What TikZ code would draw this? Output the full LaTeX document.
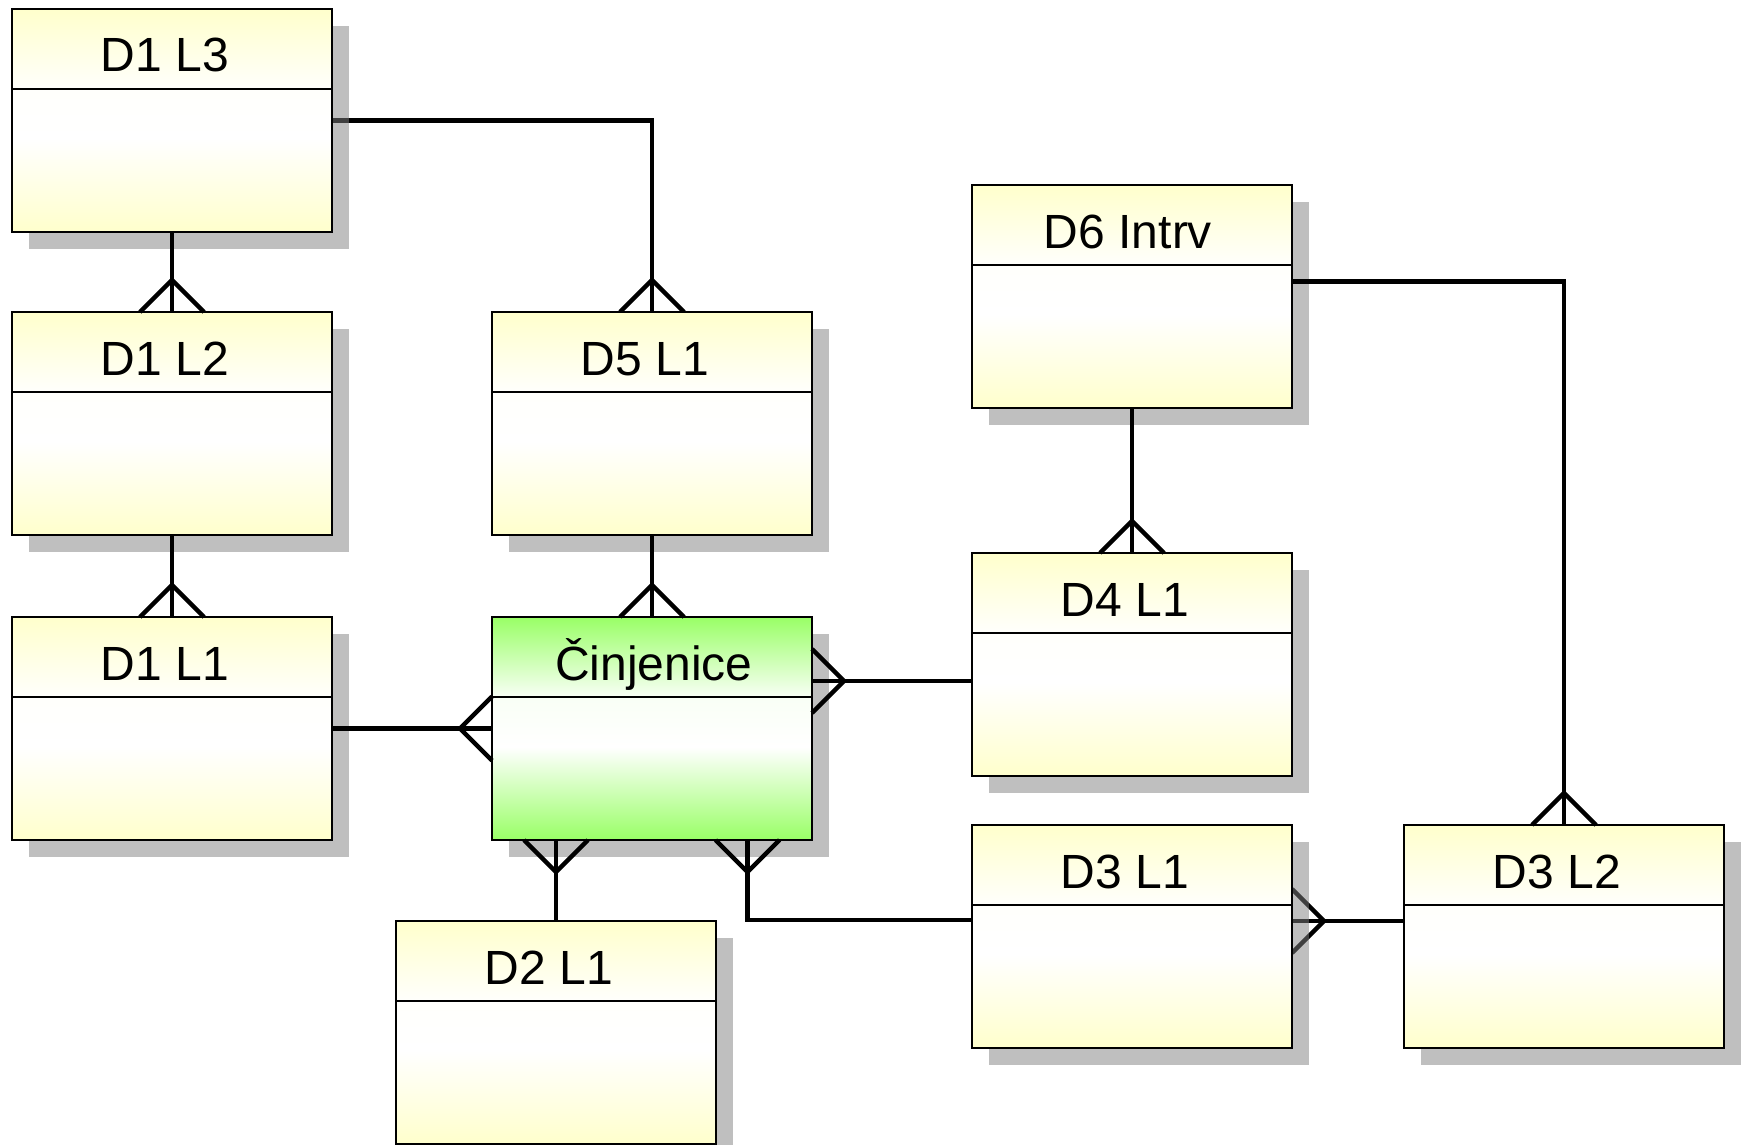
\documentclass[tikz,border=0pt]{standalone}
\usepackage{fontspec}
\setmainfont{Liberation Sans}
\usetikzlibrary{calc}
\definecolor{entyel}{HTML}{FFFFCC}
\definecolor{entgrn}{HTML}{99FF66}
\tikzset{
  entity/.style={rectangle, inner sep=0pt, outer sep=0pt, minimum width=320pt, minimum height=223pt},
  conn/.style={line width=4.5pt, black, line join=miter},
  boxline/.style={line width=2.2pt, black},
  shadowbox/.style={fill=black!50, opacity=0.5},
  title/.style={anchor=base, inner sep=0pt, font=\fontsize{48}{54}\selectfont},
}
\newcommand\entshadow[1]{\fill[shadowbox] ($(#1.north west)+(17,17)$) rectangle ($(#1.south east)+(17,17)$);}
\newcommand\entbody[2]{%
  \shade[top color=#2, bottom color=#2!6!white] (#1.north west) rectangle ($(#1.north east)+(0,80)$);
  \shade[top color=#2!6!white, bottom color=white] ($(#1.north west)+(0,80)$) rectangle ($(#1.north east)+(0,130)$);
  \shade[top color=white, bottom color=#2] ($(#1.north west)+(0,130)$) rectangle (#1.south east);
  \draw[boxline] (#1.north west) rectangle (#1.south east);
  \draw[boxline] ($(#1.north west)+(0,80)$) -- ($(#1.north east)+(0,80)$);
}
\newcommand\crowup[1]{\draw[conn] ($(#1)+(-32,0)$) -- ($(#1)+(0,-32)$) -- ($(#1)+(32,0)$);}
\newcommand\crowdown[1]{\draw[conn] ($(#1)+(-32,0)$) -- ($(#1)+(0,32)$) -- ($(#1)+(32,0)$);}
\newcommand\crowleft[1]{\draw[conn] ($(#1)+(0,-32)$) -- ($(#1)+(-32,0)$) -- ($(#1)+(0,32)$);}
\newcommand\crowright[1]{\draw[conn] ($(#1)+(0,-32)$) -- ($(#1)+(32,0)$) -- ($(#1)+(0,32)$);}
\begin{document}
\begin{tikzpicture}[x=1pt,y=-1pt]
\useasboundingbox (0,0) rectangle (1745,1145);
% geometry nodes
\node[entity] (d13) at (172,120.5) {};
\node[entity] (d12) at (172,423.5) {};
\node[entity] (d11) at (172,728.5) {};
\node[entity] (d51) at (652,423.5) {};
\node[entity] (cin) at (652,728.5) {};
\node[entity] (d6)  at (1132,296.5) {};
\node[entity] (d41) at (1132,664.5) {};
\node[entity] (d31) at (1132,936.5) {};
\node[entity] (d32) at (1564,936.5) {};
\node[entity] (d21) at (556,1032.5) {};
\coordinate (p6) at ($(d41.north west)+(0,128)$);
\coordinate (q6) at (p6 -| cin.east);
\coordinate (p8) at ($(d6.north east)+(0,96.7)$);
\coordinate (p10) at ($(d31.north west)+(0,95)$);
\coordinate (q10) at ($(cin.south west)+(255.5,0)$);
\coordinate (p11) at ($(d32.north west)+(0,96)$);
\coordinate (q11) at (p11 -| d31.east);
\coordinate (q9) at (d21.north |- cin.south);
% connectors lying under shadows
\draw[conn] (d13.east) -| (d51.north);
\crowup{d51.north}
\draw[conn] (p11) -- (q11);
\crowright{q11}
% shadows
\foreach \n in {d13,d12,d11,d51,cin,d6,d41,d31,d32,d21}{\entshadow{\n}}
% boxes
\entbody{d13}{entyel}
\entbody{d12}{entyel}
\entbody{d11}{entyel}
\entbody{d51}{entyel}
\entbody{cin}{entgrn}
\entbody{d6}{entyel}
\entbody{d41}{entyel}
\entbody{d31}{entyel}
\entbody{d32}{entyel}
\entbody{d21}{entyel}
% titles
\node[title] (t13) at ($(d13.north)+(-7,63)$) {D1 L3};
\node[title] (t12) at ($(d12.north)+(-7,63)$) {D1 L2};
\node[title] (t11) at ($(d11.north)+(-7,63)$) {D1 L1};
\node[title] (t51) at ($(d51.north)+(-7,63)$) {D5 L1};
\node[title] (tcin) at ($(cin.north)+(2,63)$) {Činjenice};
\node[title] (t6) at ($(d6.north)+(-4,63)$) {D6 Intrv};
\node[title] (t41) at ($(d41.north)+(-7,63)$) {D4 L1};
\node[title] (t31) at ($(d31.north)+(-7,63)$) {D3 L1};
\node[title] (t32) at ($(d32.north)+(-7,63)$) {D3 L2};
\node[title] (t21) at ($(d21.north)+(-7,63)$) {D2 L1};
% other connectors
\draw[conn] (d13.south) -- (d12.north);
\crowup{d12.north}
\draw[conn] (d12.south) -- (d11.north);
\crowup{d11.north}
\draw[conn] (d51.south) -- (cin.north);
\crowup{cin.north}
\draw[conn] (d11.east) -- (cin.west);
\crowleft{cin.west}
\draw[conn] (p6) -- (q6);
\crowright{q6}
\draw[conn] (d6.south) -- (d41.north);
\crowup{d41.north}
\draw[conn] (p8) -| (d32.north);
\crowup{d32.north}
\draw[conn] (d21.north) -- (q9);
\crowdown{q9}
\draw[conn] (p10) -| (q10);
\crowdown{q10}
\end{tikzpicture}
\end{document}
